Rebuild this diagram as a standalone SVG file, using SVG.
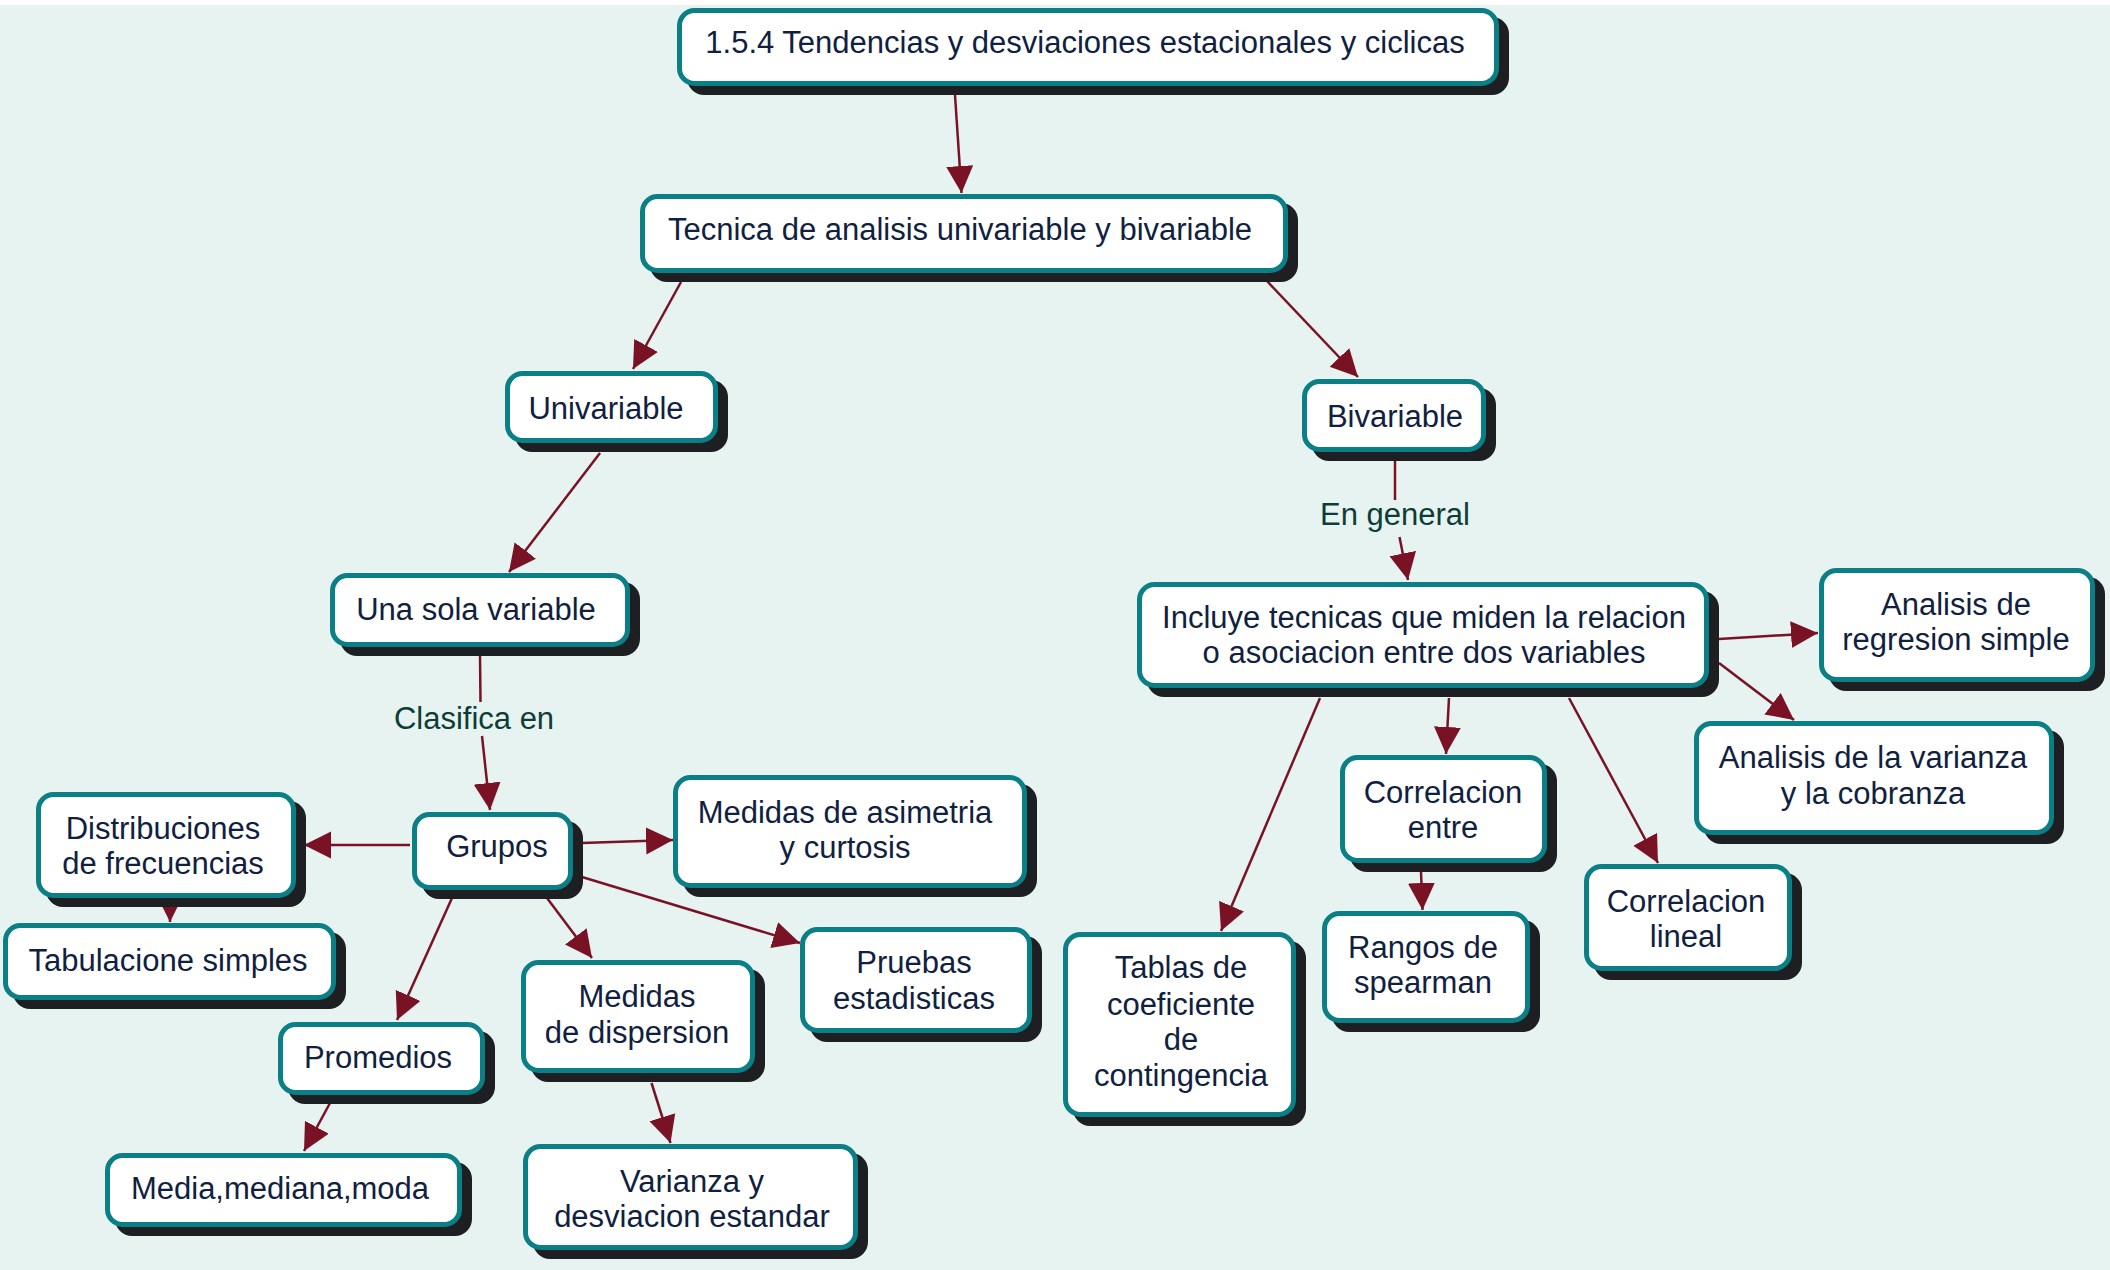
<svg xmlns="http://www.w3.org/2000/svg" width="2110" height="1270" viewBox="0 0 2110 1270">
<defs>
<style>
.sh{fill:#1e1f22}
.bx{fill:#ffffff;stroke:#0b7f86;stroke-width:5}
.t{font-family:"Liberation Sans",Arial,sans-serif;font-size:31px;fill:#10213f;text-anchor:middle}
.lb{font-family:"Liberation Sans",Arial,sans-serif;font-size:31px;fill:#0e3d36;text-anchor:middle}
.c{stroke:#7a1226;stroke-width:2.5;fill:none}
.ca{stroke:#7a1226;stroke-width:2.5;fill:none;marker-end:url(#ah)}
</style>
<marker id="ah" markerUnits="userSpaceOnUse" markerWidth="28" markerHeight="28" refX="27" refY="13.5" orient="auto">
<path d="M0,0 L27,13.5 L0,27 z" fill="#7a1226"/>
</marker>
</defs>
<rect x="0" y="0" width="2110" height="1270" fill="#ffffff"/>
<rect x="0" y="5" width="2110" height="1265" fill="#e6f3f0"/>
<g id="connectors">
<line class="ca" x1="955" y1="95" x2="961.5" y2="193"/>
<line class="ca" x1="681" y1="282" x2="633" y2="369"/>
<line class="ca" x1="1266" y1="280" x2="1358" y2="377"/>
<line class="ca" x1="600" y1="453" x2="509" y2="572"/>
<line class="c" x1="480" y1="655" x2="480.5" y2="702"/>
<line class="ca" x1="482" y1="736" x2="490" y2="810"/>
<text class="lb" x="474" y="729">Clasifica en</text>
<line class="ca" x1="410" y1="845" x2="304" y2="845"/>
<line class="ca" x1="582" y1="843" x2="673" y2="840"/>
<line class="ca" x1="582" y1="877" x2="800" y2="943"/>
<line class="ca" x1="547" y1="898" x2="592" y2="958"/>
<line class="ca" x1="452" y1="898" x2="397" y2="1020"/>
<line class="ca" x1="170" y1="880" x2="170" y2="922"/>
<line class="ca" x1="330" y1="1103" x2="304" y2="1151"/>
<line class="ca" x1="651.5" y1="1083" x2="670.5" y2="1143"/>
<line class="c" x1="1395" y1="460" x2="1395" y2="500"/>
<line class="ca" x1="1399.5" y1="537" x2="1408" y2="580"/>
<text class="lb" x="1395" y="525">En general</text>
<line class="ca" x1="1719" y1="639" x2="1818" y2="633"/>
<line class="ca" x1="1719" y1="663" x2="1794" y2="720"/>
<line class="ca" x1="1449" y1="698" x2="1446" y2="754"/>
<line class="ca" x1="1320" y1="698" x2="1221" y2="931"/>
<line class="ca" x1="1569" y1="698" x2="1658" y2="863"/>
<line class="ca" x1="1421" y1="872" x2="1422.5" y2="910"/>
</g>
<g id="n-title"><rect class="sh" x="687" y="17" width="822" height="78" rx="17"/><rect class="bx" x="679.5" y="10.5" width="817" height="73" rx="15"/><text class="t" x="1085" y="53">1.5.4 Tendencias y desviaciones estacionales y ciclicas</text></g>
<g id="n-tecnica"><rect class="sh" x="650" y="203" width="648" height="79" rx="17"/><rect class="bx" x="642.5" y="196.5" width="643" height="74" rx="15"/><text class="t" x="960" y="240">Tecnica de analisis univariable y bivariable</text></g>
<g id="n-univariable"><rect class="sh" x="515" y="380" width="213" height="72" rx="17"/><rect class="bx" x="507.5" y="373.5" width="208" height="67" rx="15"/><text class="t" x="606" y="419">Univariable</text></g>
<g id="n-bivariable"><rect class="sh" x="1312" y="388" width="184" height="73" rx="17"/><rect class="bx" x="1304.5" y="381.5" width="179" height="68" rx="15"/><text class="t" x="1395" y="427">Bivariable</text></g>
<g id="n-unasola"><rect class="sh" x="340" y="582" width="300" height="74" rx="17"/><rect class="bx" x="332.5" y="575.5" width="295" height="69" rx="15"/><text class="t" x="476" y="620">Una sola variable</text></g>
<g id="n-grupos"><rect class="sh" x="422" y="821" width="161" height="78" rx="17"/><rect class="bx" x="414.5" y="814.5" width="156" height="73" rx="15"/><text class="t" x="497" y="857">Grupos</text></g>
<g id="n-distrib"><rect class="sh" x="46" y="801" width="260" height="106" rx="17"/><rect class="bx" x="38.5" y="794.5" width="255" height="101" rx="15"/><text class="t" x="163" y="839">Distribuciones</text><text class="t" x="163" y="874">de frecuencias</text></g>
<g id="n-tabul"><rect class="sh" x="13" y="932" width="333" height="77" rx="17"/><rect class="bx" x="5.5" y="925.5" width="328" height="72" rx="15"/><text class="t" x="168" y="971">Tabulacione simples</text></g>
<g id="n-asimetria"><rect class="sh" x="683" y="784" width="354" height="113" rx="17"/><rect class="bx" x="675.5" y="777.5" width="349" height="108" rx="15"/><text class="t" x="845" y="823">Medidas de asimetria</text><text class="t" x="845" y="858">y curtosis</text></g>
<g id="n-pruebas"><rect class="sh" x="810" y="936" width="232" height="106" rx="17"/><rect class="bx" x="802.5" y="929.5" width="227" height="101" rx="15"/><text class="t" x="914" y="973">Pruebas</text><text class="t" x="914" y="1009">estadisticas</text></g>
<g id="n-promedios"><rect class="sh" x="288" y="1031" width="207" height="73" rx="17"/><rect class="bx" x="280.5" y="1024.5" width="202" height="68" rx="15"/><text class="t" x="378" y="1068">Promedios</text></g>
<g id="n-dispersion"><rect class="sh" x="531" y="969" width="234" height="113" rx="17"/><rect class="bx" x="523.5" y="962.5" width="229" height="108" rx="15"/><text class="t" x="637" y="1007">Medidas</text><text class="t" x="637" y="1043">de dispersion</text></g>
<g id="n-media"><rect class="sh" x="115" y="1162" width="357" height="74" rx="17"/><rect class="bx" x="107.5" y="1155.5" width="352" height="69" rx="15"/><text class="t" x="280" y="1199">Media,mediana,moda</text></g>
<g id="n-varianza"><rect class="sh" x="533" y="1153" width="335" height="106" rx="17"/><rect class="bx" x="525.5" y="1146.5" width="330" height="101" rx="15"/><text class="t" x="692" y="1192">Varianza y</text><text class="t" x="692" y="1227">desviacion estandar</text></g>
<g id="n-incluye"><rect class="sh" x="1147" y="591" width="572" height="106" rx="17"/><rect class="bx" x="1139.5" y="584.5" width="567" height="101" rx="15"/><text class="t" x="1424" y="628">Incluye tecnicas que miden la relacion</text><text class="t" x="1424" y="663">o asociacion entre dos variables</text></g>
<g id="n-regresion"><rect class="sh" x="1829" y="577" width="276" height="114" rx="17"/><rect class="bx" x="1821.5" y="570.5" width="271" height="109" rx="15"/><text class="t" x="1956" y="615">Analisis de</text><text class="t" x="1956" y="650">regresion simple</text></g>
<g id="n-anvarianza"><rect class="sh" x="1704" y="730" width="360" height="114" rx="17"/><rect class="bx" x="1696.5" y="723.5" width="355" height="109" rx="15"/><text class="t" x="1873" y="768">Analisis de la varianza</text><text class="t" x="1873" y="804">y la cobranza</text></g>
<g id="n-correntre"><rect class="sh" x="1350" y="764" width="207" height="108" rx="17"/><rect class="bx" x="1342.5" y="757.5" width="202" height="103" rx="15"/><text class="t" x="1443" y="803">Correlacion</text><text class="t" x="1443" y="838">entre</text></g>
<g id="n-rangos"><rect class="sh" x="1332" y="920" width="208" height="112" rx="17"/><rect class="bx" x="1324.5" y="913.5" width="203" height="107" rx="15"/><text class="t" x="1423" y="958">Rangos de</text><text class="t" x="1423" y="993">spearman</text></g>
<g id="n-corrlineal"><rect class="sh" x="1594" y="873" width="208" height="107" rx="17"/><rect class="bx" x="1586.5" y="866.5" width="203" height="102" rx="15"/><text class="t" x="1686" y="912">Correlacion</text><text class="t" x="1686" y="947">lineal</text></g>
<g id="n-tablas"><rect class="sh" x="1073" y="941" width="233" height="185" rx="17"/><rect class="bx" x="1065.5" y="934.5" width="228" height="180" rx="15"/><text class="t" x="1181" y="978">Tablas de</text><text class="t" x="1181" y="1015">coeficiente</text><text class="t" x="1181" y="1050">de</text><text class="t" x="1181" y="1086">contingencia</text></g>
</svg>
